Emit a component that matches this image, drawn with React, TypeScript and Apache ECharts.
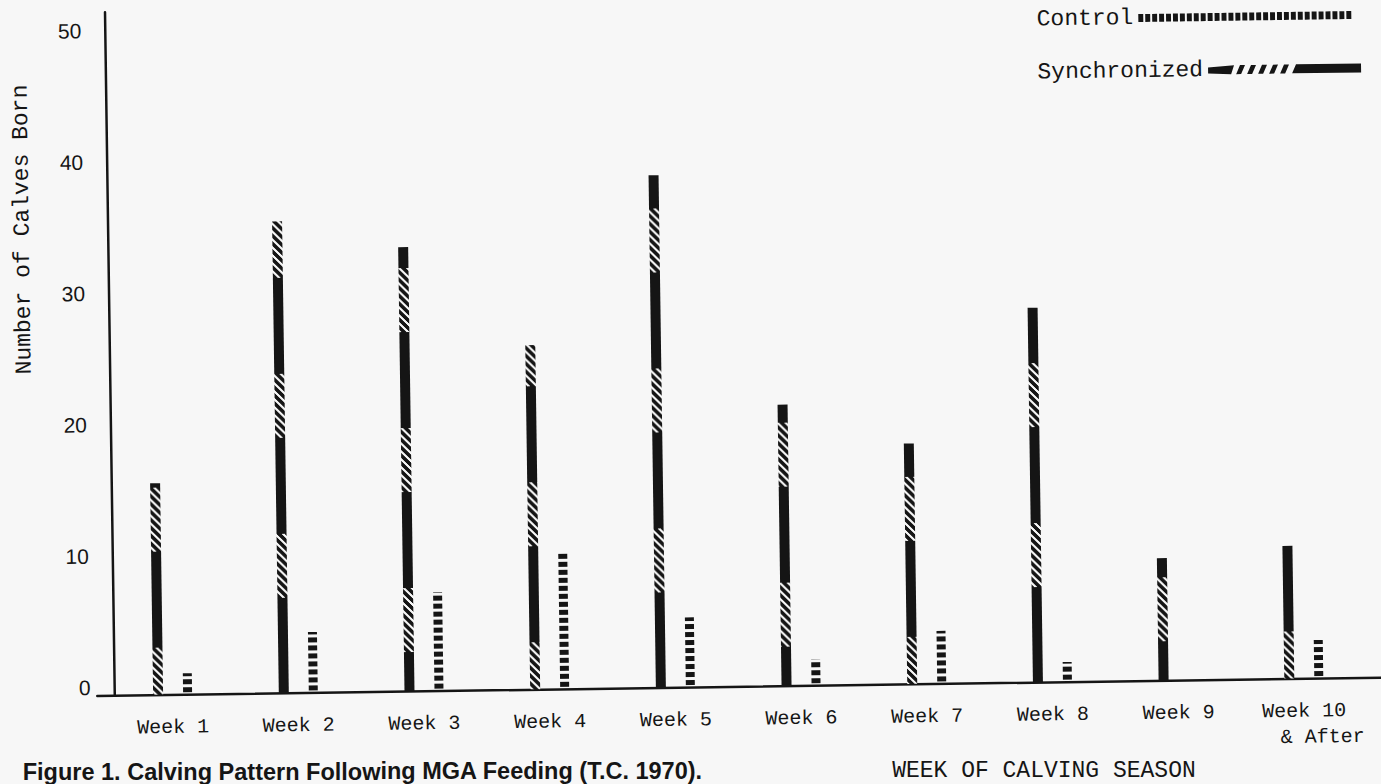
import React, { useEffect, useRef } from 'react';
import * as echarts from 'echarts';

// ---------- data ----------
const categories = [
  'Week 1', 'Week 2', 'Week 3', 'Week 4', 'Week 5',
  'Week 6', 'Week 7', 'Week 8', 'Week 9', 'Week 10\n& After',
];
const synchronized = [16.1, 35.9, 33.8, 26.2, 39.0, 21.4, 18.3, 28.5, 9.3, 10.1];
const control = [1.6, 4.6, 7.5, 10.4, 5.3, 2.0, 4.0, 1.5, 0, 2.9];
const yMax = 52;
const yStep = 10;

const titleText = 'Figure 1. Calving Pattern Following MGA Feeding (T.C. 1970).';
const xName = 'WEEK OF CALVING SEASON';
const yName = 'Number of Calves Born';

// ---------- style ----------
const INK = '#151515';
const BG = '#f7f7f7';
const MONO = '"Liberation Mono", "DejaVu Sans Mono", monospace';
const SANS = '"Liberation Sans", Arial, sans-serif';
const TILT = 0.0143; // scan tilt, radians
const HATCH_PHASES = [0, 48, 104];

function makeSyncPattern(phase: number): HTMLCanvasElement {
  const w = 8, h = 160, hatch = 64;
  const c = document.createElement('canvas');
  c.width = w; c.height = h;
  const ctx = c.getContext('2d')!;
  ctx.fillStyle = INK;
  ctx.fillRect(0, 0, w, h);
  ctx.fillStyle = BG;
  for (let y = 0; y < h; y++) {
    const inHatch = (((y - phase) % h) + h) % h < hatch;
    if (!inHatch) continue;
    for (let x = 0; x < w; x++) {
      const r = (((x - y) % 8) + 8) % 8;
      if (r < 3) ctx.fillRect(x, y, 1, 1);
    }
  }
  return c;
}

function makeControlPattern(): HTMLCanvasElement {
  const c = document.createElement('canvas');
  c.width = 2; c.height = 8;
  const ctx = c.getContext('2d')!;
  ctx.fillStyle = INK;
  ctx.fillRect(0, 0, 2, 5);
  return c;
}

function controlIcon(): string {
  let d = 'path://';
  for (let i = 0; i < 31; i++) {
    const x = i * 7;
    d += `M${x},0L${x + 5},0L${x + 5},8L${x},8Z`;
  }
  return d;
}

function syncIcon(): string {
  let d = 'path://M0,2L26,0L23,9L0,8Z';
  for (let i = 0; i < 5; i++) {
    const x = 28 + i * 11;
    d += `M${x},9L${x + 5},9L${x + 9},0L${x + 4},0Z`;
  }
  d += 'M84,9L88,0L153,0L153,9Z';
  return d;
}

export default function App() {
  const ref = useRef<HTMLDivElement>(null);

  useEffect(() => {
    if (!ref.current) return;
    const chart = echarts.init(ref.current, undefined, { renderer: 'svg' });
    const syncPats = HATCH_PHASES.map((p) => ({ image: makeSyncPattern(p), repeat: 'repeat' }));
    const ctrlPat = { image: makeControlPattern(), repeat: 'repeat' };

    const legendCommon = {
      orient: 'horizontal',
      align: 'right',
      selectedMode: false,
      padding: 5,
      itemStyle: { color: INK, borderWidth: 0 },
      textStyle: { fontFamily: MONO, fontSize: 23, color: INK },
    };

    const option: any = {
      animation: false,
      backgroundColor: 'transparent',
      textStyle: { fontFamily: MONO },
      grid: [
        { left: 105.5, right: 18.5, top: 4, bottom: 97 },
        { left: 93, right: 0, top: 4, bottom: 97 },
      ],
      xAxis: [
        {
          type: 'category',
          gridIndex: 0,
          data: categories,
          axisLine: { show: false },
          axisTick: { show: false },
          splitLine: { show: false },
          axisLabel: {
            interval: 0,
            margin: 20,
            fontFamily: MONO,
            fontSize: 20,
            color: INK,
            lineHeight: 26,
            formatter: (v: string) => {
              const parts = v.split('\n');
              return parts.length > 1 ? `${parts[0]}\n{b|${parts[1]}}` : v;
            },
            rich: {
              b: { fontFamily: MONO, fontSize: 20, color: INK, lineHeight: 26, padding: [0, 0, 0, 36] },
            },
          },
        },
        {
          type: 'value',
          gridIndex: 1,
          min: 0,
          max: 1,
          axisLine: { show: true, onZero: false, lineStyle: { color: INK, width: 2.5 } },
          axisTick: { show: false },
          axisLabel: { show: false },
          splitLine: { show: false },
        },
      ],
      yAxis: [
        {
          type: 'value',
          gridIndex: 0,
          min: 0,
          max: yMax,
          interval: yStep,
          offset: -5,
          axisLine: { show: true, lineStyle: { color: INK, width: 2.5 } },
          axisTick: { show: false },
          splitLine: { show: false },
          axisLabel: {
            margin: 24,
            fontFamily: SANS,
            fontSize: 21,
            color: INK,
            verticalAlign: 'bottom',
            lineHeight: 16,
            formatter: (v: number) => (v % yStep === 0 ? String(v) : ''),
          },
        },
        { type: 'value', gridIndex: 1, min: 0, max: 1, show: false },
      ],
      legend: [
        { ...legendCommon, data: ['Control'], left: 1037, top: 8, itemWidth: 213, itemHeight: 8, icon: controlIcon() },
        { ...legendCommon, data: ['Synchronized'], left: 1037, top: 61, itemWidth: 153, itemHeight: 9, icon: syncIcon() },
      ],
      series: [
        {
          name: 'Synchronized',
          type: 'bar',
          xAxisIndex: 0,
          yAxisIndex: 0,
          data: synchronized.map((v, i) => ({ value: v, itemStyle: { color: syncPats[i % syncPats.length] } })),
          barWidth: 10,
          barGap: '200%',
          itemStyle: { color: syncPats[0] },
        },
        {
          name: 'Control',
          type: 'bar',
          xAxisIndex: 0,
          yAxisIndex: 0,
          data: control,
          barWidth: 9,
          itemStyle: { color: ctrlPat },
        },
      ],
      graphic: [
        {
          type: 'text',
          x: 25,
          y: 220,
          rotation: Math.PI / 2,
          style: {
            text: yName, fontFamily: MONO, fontSize: 23, fill: INK,
            textAlign: 'center', textVerticalAlign: 'middle', align: 'center', verticalAlign: 'middle',
          },
        },
        {
          type: 'text',
          x: 1038.5,
          y: 776,
          rotation: -TILT,
          style: {
            text: xName, fontFamily: MONO, fontSize: 23, lineHeight: 22, fill: INK,
            textAlign: 'center', textVerticalAlign: 'middle', align: 'center', verticalAlign: 'middle',
          },
        },
        {
          type: 'text',
          x: 17.5,
          y: 750,
          rotation: -TILT,
          style: {
            text: titleText, fontFamily: SANS, fontWeight: 'bold', fontSize: 23.5, lineHeight: 24, fill: INK,
            textAlign: 'left', textVerticalAlign: 'top', align: 'left', verticalAlign: 'top',
          },
        },
      ],
    };

    chart.setOption(option);
    return () => chart.dispose();
  }, []);

  return (
    <div style={{ position: 'fixed', left: 0, top: 0, width: 1381, height: 784, background: BG, overflow: 'hidden' }}>
      <div
        ref={ref}
        style={{ width: 1381, height: 784, transform: `rotate(${-TILT}rad)`, transformOrigin: '50% 50%' }}
      />
    </div>
  );
}
